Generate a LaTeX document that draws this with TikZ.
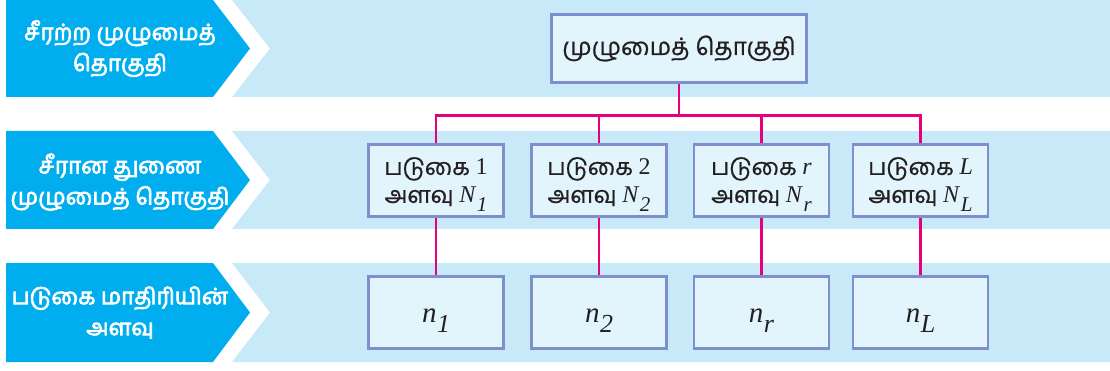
\documentclass[tikz,border=0pt]{standalone}
\usepackage{fontspec}
\setmainfont{Liberation Serif}
\newfontfamily\ta[Script=Tamil,FakeBold=0.8]{Hind Madurai}
\newfontfamily\tabold[Script=Tamil,FakeBold=3]{Hind Madurai}
\definecolor{band}{HTML}{C8E9F8}
\definecolor{chev}{HTML}{00AEEF}
\definecolor{boxfill}{HTML}{E2F4FC}
\definecolor{boxline}{HTML}{7F8FCB}
\definecolor{link}{HTML}{E6007E}
\definecolor{ink}{HTML}{231F20}
% italic symbol followed by a lowered italic index
% #1 symbol size, #2 index size, #3 drop, #4 symbol, #5 index
\newcommand{\isub}[5]{{\fontsize{#1}{#1}\selectfont\textit{#4}}\kern0.5pt\raisebox{-#3}{\fontsize{#2}{#2}\selectfont\textit{#5}}}
\newcommand{\Nsub}[2]{\isub{24}{21}{9pt}{#1}{#2}}
\newcommand{\nsub}[2]{\isub{29}{26}{10pt}{#1}{#2}}
% upright / italic tag after a Tamil word
\newcommand{\tagsym}[1]{{\fontsize{24}{28}\selectfont #1}}
\tikzset{
  level/.style={fill=band, draw=none},
  arrowtag/.style={fill=chev, draw=none},
  tagtext/.style={text=white, align=center, font=\tabold\fontsize{22.5}{31}\selectfont},
  unit/.style={draw=boxline, line width=2.2pt, fill=boxfill, inner sep=0pt,
    minimum width=135pt, minimum height=72pt, align=center, text=ink,
    font=\fontsize{23}{28}\selectfont},
  boxtext/.style={inner sep=0pt, align=center, text=ink, font=\fontsize{23}{28}\selectfont},
  wire/.style={draw=link, line width=2.2pt}
}
\begin{document}
\begin{tikzpicture}[x=1pt,y=1pt]
\useasboundingbox (0,0) rectangle (1110,-371);
% three horizontal bands with chevron labels
\foreach \t/\b in {0/97, 131/229, 263/362}{
  \pgfmathsetmacro{\m}{(\t+\b)/2}
  \path[level] (232,-\t) -- (1110,-\t) -- (1110,-\b) -- (232,-\b) -- (270,-\m) -- cycle;
  \path[arrowtag] (6,-\t) -- (213,-\t) -- (250,-\m) -- (213,-\b) -- (6,-\b) -- cycle;
}
\node[tagtext] (t1) at (120,-48.5) {சீரற்ற முழுமைத்\\தொகுதி};
\node[tagtext] (t2) at (120,-182) {சீரான துணை\\முழுமைத் தொகுதி};
\node[tagtext] (t3) at (120,-312.5) {படுகை மாதிரியின்\\அளவு};

% population
\node[unit, minimum width=255pt, minimum height=68pt, font=\ta\fontsize{24}{28}\selectfont] (pop) at (679,-48.5) {முழுமைத் தொகுதி};

% strata boxes and sample boxes
\foreach \i/\x in {1/436, 2/599, 3/761.5, 4/920.5}{
  \node[unit] (s\i) at (\x,-180.5) {};
  \node[unit] (n\i) at (\x,-312.5) {};
}
\node[boxtext] (s1t) at ([yshift=-4pt]s1.center) {{\ta படுகை} \tagsym{1}\\{\ta அளவு} \Nsub{N}{1}};
\node[boxtext] (s2t) at ([yshift=-4pt]s2.center) {{\ta படுகை} \tagsym{2}\\{\ta அளவு} \Nsub{N}{2}};
\node[boxtext] (s3t) at ([yshift=-4pt]s3.center) {{\ta படுகை} \tagsym{\textit{r}}\\{\ta அளவு} \Nsub{N}{r}};
\node[boxtext] (s4t) at ([yshift=-4pt]s4.center) {{\ta படுகை} \tagsym{\textit{L}}\\{\ta அளவு} \Nsub{N}{L}};

% sample sizes
\node[boxtext] (n1t) at ([yshift=-8pt]n1.center) {\nsub{n}{1}};
\node[boxtext] (n2t) at ([yshift=-8pt]n2.center) {\nsub{n}{2}};
\node[boxtext] (n3t) at ([yshift=-8pt]n3.center) {\nsub{n}{r}};
\node[boxtext] (n4t) at ([yshift=-8pt]n4.center) {\nsub{n}{L}};

% connectors
\coordinate (hub) at ([yshift=-32pt]pop.south);
\draw[wire] (pop.south) -- (hub);
\draw[wire] (s1.north) |- (hub) -| (s4.north);
\draw[wire] (s2.north) |- (hub);
\draw[wire] (s3.north) |- (hub);
\foreach \i in {1,...,4}{
  \draw[wire] (s\i.south) -- (n\i.north);
}
\end{tikzpicture}
\end{document}
